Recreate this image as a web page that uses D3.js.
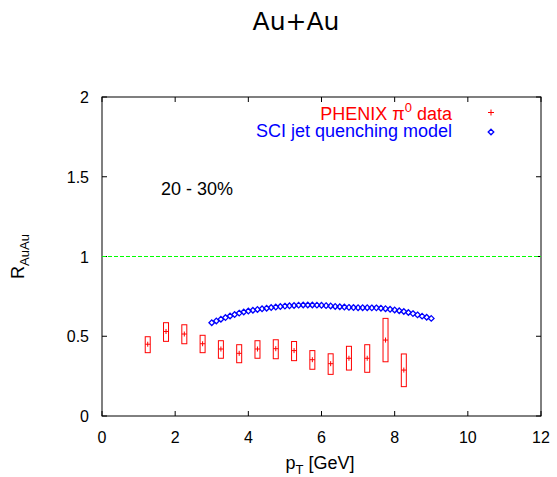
<!DOCTYPE html>
<html>
<head>
<meta charset="utf-8">
<script src="https://cdn.jsdelivr.net/npm/d3@7"></script>
<style>
  body { margin: 0; background: #fff; }
  svg { display: block; font-family: "Liberation Sans", Arial, sans-serif; }
</style>
</head>
<body>
<div id="chart"></div>
<script>
// PHENIX pi0 data: pT bins, central values and box (systematic) ranges
const dataPt   = [1.25, 1.75, 2.25, 2.75, 3.25, 3.75, 4.25, 4.75, 5.25, 5.75, 6.25, 6.75, 7.25, 7.75, 8.25];
const dataR    = [0.450, 0.530, 0.514, 0.453, 0.420, 0.393, 0.420, 0.422, 0.410, 0.353, 0.328, 0.362, 0.362, 0.476, 0.288];
const dataLow  = [0.397, 0.468, 0.453, 0.397, 0.362, 0.334, 0.362, 0.359, 0.347, 0.293, 0.261, 0.288, 0.274, 0.340, 0.184];
const dataHigh = [0.497, 0.585, 0.572, 0.506, 0.472, 0.447, 0.472, 0.478, 0.467, 0.410, 0.390, 0.437, 0.447, 0.612, 0.389];

// SCI jet quenching model curve
const modelPt = [3.000, 3.125, 3.250, 3.375, 3.500, 3.625, 3.750, 3.875, 4.000, 4.125,
                 4.250, 4.375, 4.500, 4.625, 4.750, 4.875, 5.000, 5.125, 5.250, 5.375,
                 5.500, 5.625, 5.750, 5.875, 6.000, 6.125, 6.250, 6.375, 6.500, 6.625,
                 6.750, 6.875, 7.000, 7.125, 7.250, 7.375, 7.500, 7.625, 7.750, 7.875,
                 8.000, 8.125, 8.250, 8.375, 8.500, 8.625, 8.750, 8.875, 9.000];
const modelR  = [0.585, 0.596, 0.607, 0.617, 0.627, 0.636, 0.645, 0.652, 0.658, 0.663,
                 0.668, 0.672, 0.676, 0.680, 0.683, 0.686, 0.689, 0.691, 0.693, 0.695,
                 0.696, 0.696, 0.696, 0.695, 0.694, 0.692, 0.690, 0.687, 0.685, 0.683,
                 0.681, 0.680, 0.679, 0.679, 0.679, 0.678, 0.678, 0.676, 0.673, 0.669,
                 0.665, 0.660, 0.655, 0.649, 0.642, 0.634, 0.626, 0.619, 0.612];

const xTicks = [0, 2, 4, 6, 8, 10, 12];
const yTicks = [0, 0.5, 1, 1.5, 2];

const width = 557, height = 477;
const margin = { left: 102, right: 16, top: 97, bottom: 61 };

const svg = d3.select("#chart").append("svg")
  .attr("width", width)
  .attr("height", height);

const x = d3.scaleLinear().domain([0, 12]).range([margin.left, width - margin.right]);
const y = d3.scaleLinear().domain([0, 2]).range([height - margin.bottom, margin.top]);

const tick = 5;

// frame
svg.append("rect")
  .attr("x", x(0)).attr("y", y(2))
  .attr("width", x(12) - x(0)).attr("height", y(0) - y(2))
  .style("fill", "none").style("stroke", "#000").style("stroke-width", 1);

// ticks (inward, mirrored)
xTicks.forEach(t => {
  svg.append("line").attr("x1", x(t)).attr("x2", x(t)).attr("y1", y(0)).attr("y2", y(0) - tick)
    .style("stroke", "#000");
  svg.append("line").attr("x1", x(t)).attr("x2", x(t)).attr("y1", y(2)).attr("y2", y(2) + tick)
    .style("stroke", "#000");
  svg.append("text").attr("x", x(t)).attr("y", 443)
    .attr("text-anchor", "middle").style("font-size", "16px").text(t);
});
yTicks.forEach(t => {
  svg.append("line").attr("x1", x(0)).attr("x2", x(0) + tick).attr("y1", y(t)).attr("y2", y(t))
    .style("stroke", "#000");
  svg.append("line").attr("x1", x(12)).attr("x2", x(12) - tick).attr("y1", y(t)).attr("y2", y(t))
    .style("stroke", "#000");
  svg.append("text").attr("x", 89).attr("y", y(t) + 6)
    .attr("text-anchor", "end").style("font-size", "16px").text(t);
});

// reference line at 1
svg.append("line")
  .attr("x1", x(0)).attr("x2", x(12)).attr("y1", y(1)).attr("y2", y(1))
  .style("stroke", "#00ff00").style("stroke-width", 1).style("stroke-dasharray", "4,2");

// title
svg.append("text").attr("x", 296).attr("y", 30)
  .attr("text-anchor", "middle")
  .style("font-family", "'DejaVu Sans', sans-serif").style("font-size", "25px")
  .text("Au+Au");

// axis labels
const xl = svg.append("text").attr("x", 320).attr("y", 469)
  .attr("text-anchor", "middle").style("font-size", "18px");
xl.append("tspan").text("p");
xl.append("tspan").attr("dy", 5).style("font-size", "13px").text("T");
xl.append("tspan").attr("dy", -5).text(" [GeV]");

const yl = svg.append("text")
  .attr("transform", `translate(24,${y(1)}) rotate(-90)`)
  .attr("text-anchor", "middle").style("font-size", "18px");
yl.append("tspan").text("R");
yl.append("tspan").attr("dy", 5).style("font-size", "13px").text("AuAu");

// centrality label
svg.append("text").attr("x", 161).attr("y", 195).style("font-size", "18px").text("20 - 30%");

// legend
const lg1 = svg.append("text").attr("x", 452).attr("y", 120)
  .attr("text-anchor", "end").style("font-size", "18px").style("fill", "#ff0000");
lg1.append("tspan").text("PHENIX \u03c0");
lg1.append("tspan").attr("dy", -8).style("font-size", "13px").text("0");
lg1.append("tspan").attr("dy", 8).text(" data");
svg.append("text").attr("x", 452).attr("y", 137)
  .attr("text-anchor", "end").style("font-size", "18px").style("fill", "#0000ff")
  .text("SCI jet quenching model");

const crossPath = (cx, cy, s) => `M${cx - s},${cy}H${cx + s}M${cx},${cy - s}V${cy + s}`;
const diamondPath = (cx, cy, s) => `M${cx},${cy - s}L${cx + s},${cy}L${cx},${cy + s}L${cx - s},${cy}Z`;

svg.append("path").attr("d", crossPath(491, 112.5, 3))
  .style("stroke", "#ff0000").style("stroke-width", 1).style("fill", "none");
svg.append("path").attr("d", diamondPath(491, 132, 2.8))
  .style("stroke", "#0000ff").style("stroke-width", 1.3).style("fill", "none");

// model diamonds
svg.selectAll("path.model")
  .data(modelPt)
  .enter()
  .append("path")
  .attr("class", "model")
  .attr("d", (d, i) => diamondPath(x(d), y(modelR[i]), 2.8))
  .style("stroke", "#0000ff").style("stroke-width", 1.3).style("fill", "none");

// data boxes
svg.selectAll("rect.box")
  .data(dataPt)
  .enter()
  .append("rect")
  .attr("class", "box")
  .attr("x", d => x(d) - 2.5)
  .attr("y", (d, i) => y(dataHigh[i]))
  .attr("width", 5)
  .attr("height", (d, i) => y(dataLow[i]) - y(dataHigh[i]))
  .style("fill", "none").style("stroke", "#ff0000").style("stroke-width", 1);

// data points
svg.selectAll("path.point")
  .data(dataPt)
  .enter()
  .append("path")
  .attr("class", "point")
  .attr("d", (d, i) => crossPath(x(d), y(dataR[i]), 2.5))
  .style("stroke", "#ff0000").style("stroke-width", 1).style("fill", "none");
</script>
</body>
</html>
